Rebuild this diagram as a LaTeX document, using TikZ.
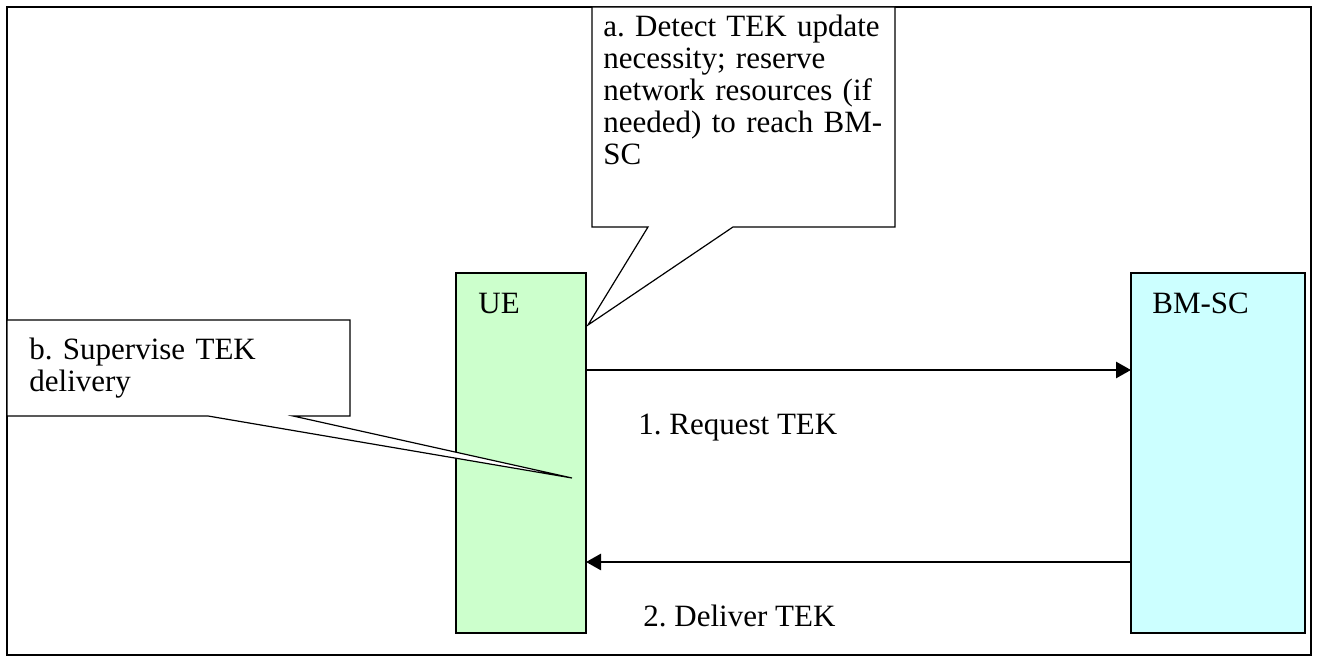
\documentclass[tikz,border=0pt]{standalone}
\usepackage{fontspec}
\setmainfont{Liberation Serif}
\usetikzlibrary{arrows.meta}
\definecolor{uegreen}{HTML}{CCFFCC}
\definecolor{bmcyan}{HTML}{CCFFFF}
\begin{document}
\frenchspacing
\begin{tikzpicture}[x=0.5pt,y=-0.5pt,
  every node/.style={font=\fontsize{15.5}{16}\selectfont},
  entity/.style={draw=black,line width=0.6pt,inner sep=0pt,outer sep=0pt,minimum height=180pt},
  lbl/.style={anchor=base west,inner sep=0pt},
  para/.style={anchor=base west,inner sep=0pt,text width=160pt,align=left},
  callout/.style={draw=black,fill=white,line width=0.6pt,line join=miter},
  msg/.style={line width=1.4pt,-{Triangle[length=7.5pt,width=8pt]}},
  frame/.style={draw=black,line width=1pt}]
\useasboundingbox (0,0) rectangle (1318,656);
\draw[frame] (7,7) rectangle (1311,655);
% entities
\node[entity,fill=uegreen,minimum width=65pt] (ue) at (521,453) {};
\node[entity,fill=bmcyan,minimum width=87pt] (bm) at (1218,453) {};
\node[lbl] (uel) at (478,314) {UE};
\node[lbl] (bml) at (1152,314) {BM-SC};
% messages
\coordinate (m1) at (0,370);
\coordinate (m2) at (0,562);
\draw[msg] (ue.east |- m1) -- (bm.west |- m1);
\draw[msg] (bm.west |- m2) -- (ue.east |- m2);
\node[lbl] (l1) at (638,435) {1. Request TEK};
\node[lbl] (l2) at (643,627) {2. Deliver TEK};
% callout a
\coordinate (ta) at (588,325);
\draw[callout] (592,7) -- (895,7) -- (895,227) -- (733,227) -- (ta) -- (648,227) -- (592,227) -- cycle;
\node[para] (ca) at (603,37) {a. Detect TEK update\\necessity; reserve\\network resources (if\\needed) to reach BM-\\SC};
% callout b
\coordinate (tb) at (572,478);
\draw[callout] (7,320) -- (350,320) -- (350,416) -- (293,416) -- (tb) -- (208,416) -- (7,416) -- cycle;
\node[para] (cb) at (29,360) {b. Supervise TEK\\delivery};
\end{tikzpicture}
\end{document}
